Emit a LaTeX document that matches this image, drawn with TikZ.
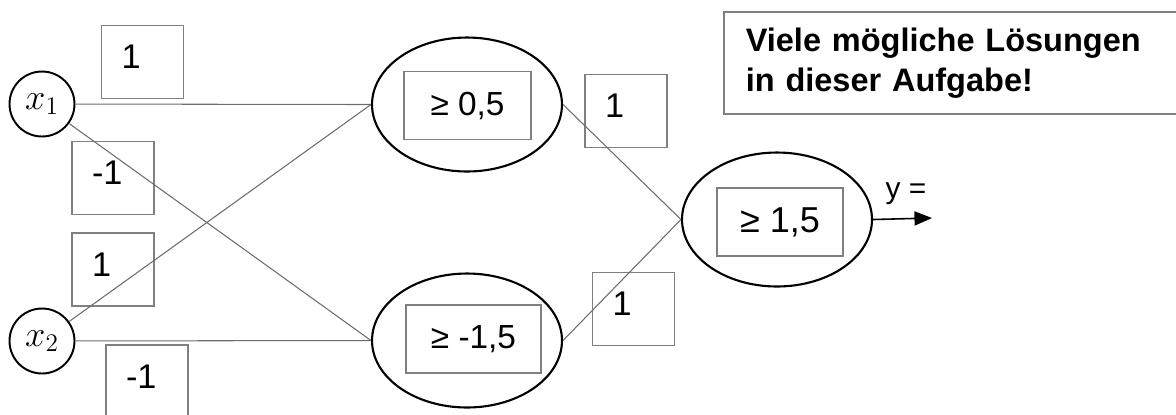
\documentclass[tikz,border=0pt]{standalone}
\usepackage{fontspec}
\setmainfont{Liberation Sans}
\usetikzlibrary{arrows.meta,shapes.geometric}
\tikzset{
  >=Triangle,
  neuron/.style={draw,ellipse,line width=1.2pt,minimum width=3.8cm,minimum height=2.68cm},
  inp/.style={draw,circle,line width=1.1pt,minimum size=1.3cm,inner sep=0pt,font=\fontsize{21}{24}\selectfont},
  thresh/.style={draw=gray,line width=0.8pt,minimum height=1.36cm,font=\fontsize{19}{22}\selectfont},
  weight/.style={draw=gray,line width=0.9pt,align=left,text width=0.84cm,inner xsep=0.4cm,
    inner ysep=0.4cm,text height=0.46cm,text depth=0.2cm,font=\fontsize{19.5}{22}\selectfont},
  link/.style={draw=gray!85!black,line width=0.6pt},
}

\begin{document}
\begin{tikzpicture}[x=0.02cm,y=-0.02cm]
\useasboundingbox (0,0) rectangle (1176,414);

\node[inp] (x1) at (42,104) {$x_1$};
\node[inp] (x2) at (42,341) {$x_2$};

\node[neuron] (h1) at (467,104.5) {};
\node[neuron] (h2) at (467,340.5) {};
\node[neuron] (out) at (777,219.5) {};

\node[thresh,minimum width=2.54cm] (t1) at (467.5,105.5) {≥ 0,5};
\node[thresh,minimum width=2.7cm] (t2) at (473.5,339) {≥ -1,5};
\node[thresh,minimum width=2.52cm,font=\fontsize{20.5}{23}\selectfont] (t3) at (780,222) {≥ 1,5};

\node[weight] (w11) at (142.5,62) {1};
\node[weight] (w12) at (113,178) {-1};
\node[weight] (w21) at (113,269.5) {1};
\node[weight] (w22) at (147,381.5) {-1};
\node[weight] (v1) at (626,111) {1};
\node[weight] (v2) at (633.5,309) {1};

\node[draw=gray,line width=0.9pt,anchor=north west,minimum width=9.4cm,minimum height=2.04cm,
  align=left,text width=8.52cm,inner xsep=0.44cm,font=\fontsize{18.5}{22.7}\selectfont\bfseries]
  (note) at (723,11) {Viele mögliche Lösungen\\in dieser Aufgabe!};

\coordinate (yend) at (932,218);
\node[font=\fontsize{17}{20}\selectfont] (ylab) at (906,194) {y =};

\path[link]
(x1) edge (h1.west)
(x1) edge (h2.west)
(x2) edge (h1.west)
(x2) edge (h2.west)
(h1.east) edge (out.west)
(h2.east) edge (out.west);

\draw[->,line width=0.9pt,>={Triangle[length=10pt,width=8pt]}] (out.east) -- (yend);

\end{tikzpicture}
\end{document}
